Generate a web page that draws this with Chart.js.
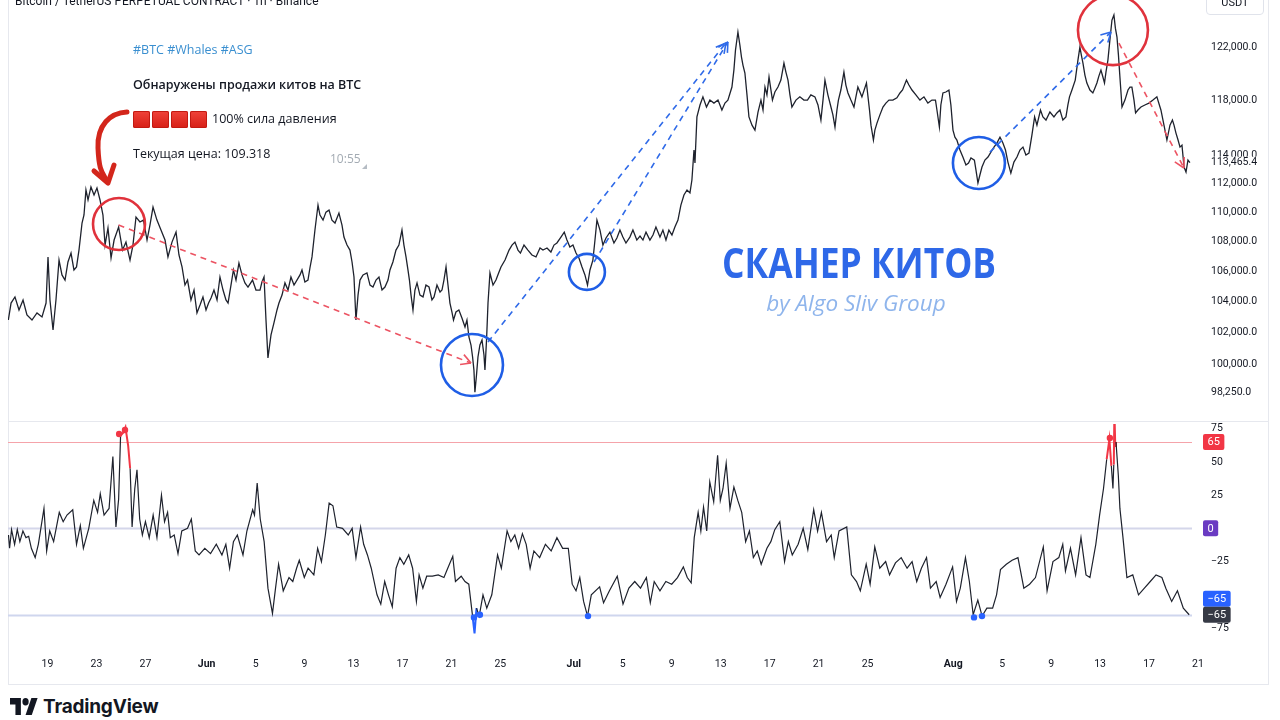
<!DOCTYPE html>
<html>
<head>
<meta charset="utf-8">
<script src="https://cdn.jsdelivr.net/npm/chart.js@4.4.1/dist/chart.umd.min.js"></script>
<style>
  html, body { margin: 0; padding: 0; background: #fff; }
  body { width: 1280px; height: 720px; position: relative; overflow: hidden; font-family: "Open Sans", sans-serif; color: #131722; }
  canvas { position: absolute; left: 0; }
  #priceCanvas { top: 0; }
  #oscCanvas { top: 420px; }
  #frame { position: absolute; left: 8px; top: -1px; width: 1261px; height: 686px; border: 1px solid #e6e8ee; box-sizing: border-box; }
  #paneLine { position: absolute; left: 8px; top: 421px; width: 1261px; height: 1px; background: #e6e8ee; }
  #title { position: absolute; left: 15px; top: -5px; font: 12px Roboto, sans-serif; line-height: 12px; white-space: nowrap; }
  #usdt { position: absolute; left: 1206px; top: -6px; width: 58px; height: 21px; border: 1px solid #e0e3eb; border-radius: 4px; box-sizing: border-box; font: 11px Roboto, sans-serif; text-align: center; line-height: 16px; }
  .msg { position: absolute; left: 133px; font-size: 12.5px; line-height: 18px; white-space: nowrap; }
  #tags { top: 41px; color: #3a8fd0; }
  #headline { top: 76px; font-weight: 600; }
  #pressure { top: 110px; display: flex; align-items: center; }
  #pressure i { display: inline-block; width: 17px; height: 17px; margin-right: 2px; border-radius: 2px; background: linear-gradient(#f0433a, #d61f16); box-shadow: inset 0 0 0 1px #c21a12; }
  #pressure span { margin-left: 3px; }
  #price { top: 145px; }
  #time { position: absolute; left: 330px; top: 150px; font-size: 12px; color: #a3abb3; }
  #corner { position: absolute; left: 362px; top: 164px; width: 0; height: 0; border-left: 5px solid transparent; border-bottom: 5px solid #b5bcc4; }
  #brand { position: absolute; left: 10px; top: 695px; display: flex; align-items: center; }
  #brand span { font: 700 19px Inter, sans-serif; margin-left: 5px; letter-spacing: -0.2px; }
  #overlay { position: absolute; left: 0; top: 0; pointer-events: none; }
</style>
</head>
<body>
<div id="frame"></div>
<canvas id="priceCanvas" width="1270" height="420"></canvas>
<canvas id="oscCanvas" width="1270" height="264"></canvas>
<div id="paneLine"></div>
<div id="title">Bitcoin / TetherUS PERPETUAL CONTRACT · 1h · Binance</div>
<div id="usdt">USDT</div>
<div class="msg" id="tags">#BTC #Whales #ASG</div>
<div class="msg" id="headline">Обнаружены продажи китов на BTC</div>
<div class="msg" id="pressure"><i></i><i></i><i></i><i></i><span>100% сила давления</span></div>
<div class="msg" id="price">Текущая цена: 109.318</div>
<div id="time">10:55</div>
<div id="corner"></div>
<div id="brand">
  <svg width="28" height="17" viewBox="0 4 36 18" preserveAspectRatio="none"><path fill="#131722" d="M14 22H7V11H0V4h14v18z"/><circle fill="#131722" cx="20" cy="8" r="4"/><path fill="#131722" d="M28 22h-8l7.5-18h8z"/></svg>
  <span>TradingView</span>
</div>
<svg id="overlay" width="1280" height="720">
  <path d="M127 112 C110 113 97 125 98 148 S102 172 107 181" fill="none" stroke="#d3261b" stroke-width="5" stroke-linecap="round"/>
  <path d="M94 171 L108 183 L114 165" fill="none" stroke="#d3261b" stroke-width="5" stroke-linecap="round" stroke-linejoin="round"/>
</svg>
<script>
// time axis: days counted from 16 May 00:00, 1h BTCUSDT perpetual
const dateTickDays   = [3, 7, 11, 16, 20, 24, 28, 32, 36, 40, 46, 50, 54, 58, 62, 66, 70, 77, 81, 85, 89, 93, 97];
const dateTickLabels = ['19', '23', '27', 'Jun', '5', '9', '13', '17', '21', '25', 'Jul', '5', '9', '13', '17', '21', '25', 'Aug', '5', '9', '13', '17', '21'];
const monthLabels = ['Jun', 'Jul', 'Aug'];

const priceTicks = [98250, 100000, 102000, 104000, 106000, 108000, 110000, 112000, 114000, 118000, 122000];
const oscTicks = [75, 50, 25, 0, -25, -75];
const oscLevels = [65, 0, -65];
const lastPrice = 113465.4;
const lastOsc = -65;

// [day, price]
const pricePath = [
  [-0.20,102800],[0.02,103900],[0.34,104300],[0.67,103450],[1.00,104100],[1.32,103130],[1.73,102800],[2.14,103260],[2.55,103000],[2.88,103900],
  [3.04,106950],[3.20,104100],[3.45,102160],[3.69,104100],[3.94,106740],[4.18,105750],[4.43,105410],[4.67,106610],[4.92,107210],[5.16,106080],
  [5.37,106280],[5.57,107410],[5.82,109250],[5.98,109800],[6.14,111540],[6.31,110840],[6.55,111750],[6.80,111190],[7.04,111680],[7.29,110840],
  [7.53,109800],[7.70,107750],[7.94,108910],[8.19,106880],[8.44,108090],[8.81,108970],[9.13,107410],[9.41,107950],[9.74,106740],[9.98,107750],
  [10.23,109660],[10.55,109320],[10.84,109450],[11.13,108090],[11.37,109110],[11.62,110350],[11.94,109450],[12.27,108770],[12.60,108090],[12.84,106950],
  [13.17,107950],[13.50,108630],[13.74,107080],[13.99,106280],[14.23,105080],[14.44,105410],[14.72,104100],[14.97,104750],[15.21,103260],[15.46,103770],
  [15.70,104300],[15.95,103450],[16.16,103900],[16.36,104230],[16.60,104750],[16.85,104100],[17.09,105610],[17.34,104750],[17.58,104100],[17.75,103900],
  [17.99,105080],[18.19,106080],[18.40,105410],[18.64,106540],[18.89,105750],[19.13,105220],[19.38,104950],[19.75,105410],[20.03,104750],[20.36,104750],
  [20.52,105280],[20.69,105610],[20.85,102800],[21.01,100380],[21.26,101840],[21.50,102610],[21.75,103450],[21.91,103900],[22.16,104420],[22.40,105220],
  [22.65,104750],[22.89,105610],[23.14,105080],[23.38,105410],[23.63,105750],[23.79,106080],[24.03,105280],[24.28,105410],[24.44,106210],[24.61,106950],
  [24.85,108770],[25.10,110490],[25.26,109800],[25.51,109450],[25.75,110000],[26.00,110140],[26.24,109450],[26.49,109250],[26.81,109930],[27.06,109110],
  [27.22,108290],[27.47,107750],[27.71,107410],[27.88,106610],[28.04,105610],[28.20,102800],[28.37,104420],[28.53,105410],[28.78,105750],[29.10,105880],
  [29.35,105080],[29.59,104950],[29.84,105410],[30.08,105610],[30.33,104750],[30.57,104950],[30.82,105410],[30.98,106080],[31.22,106610],[31.47,107410],
  [31.71,107750],[31.96,108770],[32.12,107750],[32.29,106950],[32.45,106080],[32.57,105410],[32.70,104420],[32.86,103450],[33.02,104750],[33.19,105220],
  [33.43,104420],[33.68,104300],[33.92,105080],[34.17,104950],[34.41,104100],[34.58,104300],[34.82,105080],[35.07,104620],[35.23,104750],[35.39,105410],
  [35.56,106280],[35.72,105080],[35.88,103900],[36.04,103320],[36.17,102800],[36.37,103320],[36.61,103450],[36.86,102930],[37.11,102350],[37.27,102800],
  [37.43,101710],[37.60,101200],[37.73,100440],[37.84,99620],[37.92,98250],[38.05,99310],[38.17,100440],[38.33,101200],[38.50,101520],[38.66,100570],
  [38.74,99620],[38.87,101520],[38.99,103900],[39.15,105880],[39.40,105080],[39.64,105410],[39.89,105950],[40.05,106280],[40.38,106740],[40.71,107410],
  [40.95,107750],[41.19,107950],[41.44,107410],[41.64,107210],[41.93,107750],[42.25,107410],[42.58,107080],[42.91,106950],[43.24,107550],[43.48,107410],
  [43.81,107550],[44.13,107280],[44.38,107750],[44.62,107890],[44.95,108290],[45.22,108630],[45.44,108090],[45.68,107620],[45.93,107750],[46.18,107210],
  [46.42,106880],[46.67,106280],[46.91,105750],[47.12,105080],[47.32,106080],[47.56,106740],[47.73,108090],[47.89,109450],[48.14,108770],[48.38,107750],
  [48.63,108230],[48.95,108630],[49.28,107890],[49.52,108230],[49.77,108770],[50.01,108290],[50.26,107890],[50.58,108290],[50.83,108770],[51.15,108090],
  [51.41,108360],[51.65,108090],[51.90,108630],[52.22,108090],[52.47,108430],[52.71,108970],[53.04,108290],[53.28,108770],[53.53,108090],[53.77,108770],
  [54.02,108430],[54.26,108970],[54.51,109450],[54.75,110490],[55.00,111190],[55.25,111540],[55.49,111330],[55.65,112240],[55.82,114370],[55.90,113440],
  [56.06,116770],[56.31,117650],[56.55,118250],[56.84,117500],[57.12,118010],[57.45,117790],[57.78,118010],[58.10,117280],[58.35,117790],[58.59,118010],
  [58.92,118980],[59.08,120250],[59.21,121770],[59.41,123160],[59.57,122150],[59.70,121240],[59.82,120630],[59.98,120030],[60.15,118400],[60.31,116770],
  [60.56,116170],[60.80,115810],[61.05,117130],[61.29,118010],[61.46,117280],[61.62,118980],[61.78,118400],[61.95,119730],[62.23,118010],[62.43,118610],
  [62.68,118980],[62.92,119500],[63.17,120780],[63.33,120100],[63.50,119500],[63.66,118400],[63.82,117500],[64.15,118010],[64.47,118250],[64.80,118010],
  [65.09,118010],[65.37,118400],[65.70,118250],[65.95,117650],[66.19,116540],[66.36,118010],[66.52,119500],[66.76,118400],[67.01,117500],[67.17,116920],
  [67.34,116030],[67.50,117280],[67.62,118010],[67.82,118760],[68.07,120100],[68.23,119130],[68.40,118540],[68.64,118010],[68.89,117500],[69.05,118250],
  [69.21,118980],[69.54,118250],[69.91,119280],[70.16,117280],[70.28,116170],[70.48,115090],[70.60,115810],[70.77,116320],[71.01,116920],[71.26,117500],
  [71.50,117790],[71.75,118010],[72.07,118010],[72.40,118180],[72.65,118540],[72.86,118760],[73.18,119500],[73.38,119130],[73.63,118760],[73.95,118400],
  [74.28,118010],[74.61,118250],[74.93,117790],[75.26,118010],[75.55,118010],[75.67,117280],[75.87,116030],[75.99,117650],[76.16,118540],[76.40,118610],
  [76.65,118760],[76.81,117650],[76.98,115810],[77.14,115300],[77.30,115090],[77.55,114370],[77.79,113870],[78.04,113300],[78.25,113440],[78.45,113800],
  [78.73,113650],[78.86,112940],[79.02,112030],[79.18,112590],[79.35,113160],[79.59,113650],[79.84,113870],[80.08,114220],[80.33,114580],[80.57,114870],
  [80.82,115300],[81.06,114870],[81.27,114370],[81.47,113510],[81.71,112730],[81.96,113510],[82.21,113870],[82.45,114370],[82.70,114580],[82.94,114010],
  [83.19,114150],[83.43,115450],[83.65,116770],[83.84,116170],[84.13,117280],[84.33,116770],[84.58,116540],[84.90,117130],[85.23,116770],[85.47,117060],
  [85.72,117280],[85.96,116540],[86.21,116770],[86.37,117650],[86.50,118250],[86.70,118760],[86.97,119500],[87.19,121010],[87.35,122000],[87.47,121390],
  [87.60,120780],[87.76,119880],[87.92,119280],[88.17,118760],[88.41,118540],[88.58,118910],[88.74,119280],[88.90,119800],[89.07,120250],[89.23,119730],
  [89.36,119280],[89.48,120100],[89.64,121010],[89.80,122540],[89.97,124090],[90.13,124480],[90.25,123460],[90.38,122770],[90.50,121390],[90.62,119730],
  [90.79,117500],[91.03,118010],[91.28,118760],[91.44,118980],[91.60,118980],[91.77,118010],[91.90,117060],[92.09,117280],[92.34,117500],[92.66,117650],
  [92.99,117790],[93.32,118010],[93.64,118250],[93.97,117280],[94.22,116170],[94.46,115090],[94.71,116170],[94.91,116540],[95.04,116170],[95.20,115590],
  [95.37,115090],[95.53,114580],[95.69,114720],[95.86,113160],[96.02,112800],[96.18,113650],[96.34,113465.4]
];

// [day, oscillator value]
const oscPath = [
  [-0.19,-5],[-0.10,-15],[0.06,-1],[0.31,-12],[0.53,-1],[0.74,-10],[0.99,-2],[1.24,-7],[1.46,-6],[1.68,-15],
  [1.99,-22],[2.25,-12],[2.71,15],[2.93,-17],[3.18,-2],[3.50,-10],[3.96,12],[4.28,5],[4.59,10],[5.06,14],
  [5.37,-12],[5.68,2],[5.93,-15],[6.37,0],[6.78,21],[7.09,12],[7.31,26],[7.62,10],[8.03,15],[8.34,54],
  [8.59,1],[8.81,22],[8.97,70],[9.19,72],[9.37,76],[9.59,62],[9.75,45],[9.91,1],[10.13,30],[10.31,44],
  [10.53,7],[10.75,-5],[11.00,5],[11.31,-7],[11.63,10],[11.94,-7],[12.31,25],[12.56,5],[12.81,12],[13.03,-7],
  [13.35,-5],[13.66,-19],[13.97,-2],[14.44,0],[14.75,7],[15.07,-17],[15.38,-20],[15.85,-15],[16.32,-19],[16.79,-12],
  [17.25,-20],[17.57,-12],[17.88,-30],[18.19,-10],[18.51,-5],[18.97,-20],[19.29,-2],[19.76,14],[19.91,10],[20.13,34],
  [20.38,7],[20.70,-10],[21.01,-45],[21.38,-64],[21.63,-45],[21.88,-27],[22.26,-47],[22.73,-37],[23.04,-40],[23.35,-30],
  [23.57,-24],[23.98,-37],[24.29,-30],[24.76,-35],[25.07,-15],[25.38,-25],[25.70,-5],[26.01,19],[26.32,17],[26.63,1],
  [27.10,0],[27.57,-5],[27.89,0],[28.20,-22],[28.58,1],[28.83,-12],[29.14,-20],[29.45,-30],[29.92,-50],[30.23,-57],
  [30.55,-40],[30.86,-50],[31.17,-59],[31.48,-30],[31.79,-22],[32.11,-27],[32.51,-20],[32.83,-30],[33.14,-55],[33.36,-35],
  [33.67,-45],[33.98,-36],[34.45,-36],[34.92,-35],[35.39,-37],[35.70,-30],[36.11,-21],[36.33,-40],[36.80,-36],[37.11,-40],
  [37.42,-42],[37.74,-67],[37.89,-79],[38.05,-60],[38.27,-66],[38.58,-50],[38.89,-60],[39.30,-50],[39.77,-20],[40.08,-30],
  [40.55,-2],[40.86,-10],[41.18,-5],[41.49,-15],[41.80,-4],[42.11,-12],[42.43,-30],[42.74,-17],[43.21,-22],[43.68,-12],
  [44.15,-17],[44.62,-7],[45.09,-15],[45.55,-15],[45.87,-42],[46.18,-47],[46.49,-37],[46.80,-55],[47.12,-66],[47.43,-50],
  [48.11,-44],[48.43,-56],[48.91,-47],[49.55,-36],[50.02,-57],[50.50,-45],[50.98,-40],[51.45,-45],[51.93,-37],[52.25,-56],
  [52.57,-40],[53.04,-47],[53.52,-40],[54.00,-42],[54.47,-37],[54.95,-29],[55.27,-37],[55.59,-41],[55.84,-7],[56.16,12],
  [56.38,-2],[56.60,16],[56.86,-2],[57.11,35],[57.43,20],[57.75,55],[57.97,21],[58.19,30],[58.45,49],[58.76,15],
  [59.08,31],[59.40,21],[59.72,12],[60.04,-10],[60.35,-2],[60.67,-22],[60.99,-17],[61.31,-27],[61.78,-15],[62.10,-10],
  [62.42,-1],[62.83,5],[63.22,-25],[63.53,-10],[63.85,-20],[64.33,-12],[64.74,0],[65.12,-16],[65.60,14],[65.92,-2],
  [66.23,12],[66.65,-10],[67.03,-5],[67.28,-22],[67.67,-2],[68.30,1],[68.68,-35],[69.10,-40],[69.41,-47],[69.89,-27],
  [70.21,-42],[70.59,-14],[71.00,-30],[71.48,-25],[71.80,-35],[72.28,-26],[72.75,-22],[73.23,-30],[73.64,-25],[74.02,-40],
  [74.40,-30],[74.82,-22],[75.14,-45],[75.61,-40],[75.93,-52],[76.41,-42],[76.95,-29],[77.27,-55],[77.58,-45],[78.00,-22],
  [78.32,-40],[78.63,-65],[79.01,-54],[79.36,-66],[79.75,-60],[80.22,-60],[80.54,-50],[80.86,-31],[81.34,-27],[81.81,-24],
  [82.29,-22],[82.77,-45],[83.24,-42],[83.72,-37],[84.36,-14],[84.67,-47],[85.15,-25],[85.63,-22],[85.95,-12],[86.17,-32],
  [86.58,-15],[87.00,-35],[87.44,-7],[87.85,-35],[88.17,-37],[88.65,-12],[88.96,10],[89.28,30],[89.54,52],[89.76,67],
  [89.92,47],[90.05,30],[90.12,48],[90.17,88],[90.24,62],[90.30,65],[90.49,40],[90.62,15],[90.87,-7],[91.19,-37],
  [91.67,-35],[92.14,-50],[92.62,-45],[93.10,-40],[93.57,-35],[94.05,-37],[94.37,-45],[94.85,-55],[95.32,-47],[95.80,-60],[96.28,-65]
];

// whale signal dots on the oscillator
const sellSignals = [[8.85, 71], [9.33, 74], [89.80, 68]];
const buySignals = [[37.84, -67], [38.33, -65], [47.16, -66], [78.70, -67], [79.35, -66]];

const LINE = '#1e222d';
const TEXT = '#131722';
const RED = '#f23645';
const BLUE = '#2962ff';
const X_MIN = -0.229;
const X_MAX = 97;

// drawn annotations, anchored in [day, price]
const markCircles = [
  { at: [8.84, 109180], r: 26, color: '#e0323c' },
  { at: [37.68, 99940], r: 31, color: '#1f5ee6' },
  { at: [47.07, 105950], r: 18, color: '#1f5ee6' },
  { at: [79.10, 113440], r: 26, color: '#1f5ee6' },
  { at: [90.05, 123310], r: 35, color: '#e0323c' }
];
const markArrows = [
  { from: [8.81, 109110], to: [37.60, 100060], color: '#ec5463' },
  { from: [38.99, 101390], to: [58.43, 122320], color: '#2f6ae8' },
  { from: [47.65, 106610], to: [58.59, 122400], color: '#2f6ae8' },
  { from: [80.00, 114220], to: [89.89, 123160], color: '#2f6ae8' },
  { from: [90.54, 122310], to: [95.85, 113090], color: '#ec5463' }
];

const fmtPrice = v => Number(v).toLocaleString('en-US', { minimumFractionDigits: 1, maximumFractionDigits: 1 });
const toXY = arr => arr.map(([d, v]) => ({ x: d, y: v }));

// keep the plot area flush with the pane edges (Chart.js pads for edge labels)
const noEdgePadding = s => { s.paddingTop = 0; s.paddingBottom = 0; s.paddingLeft = 0; s.paddingRight = 0; };

function roundRect(ctx, x, y, w, h, r) {
  ctx.beginPath();
  ctx.moveTo(x + r, y);
  ctx.arcTo(x + w, y, x + w, y + h, r);
  ctx.arcTo(x + w, y + h, x, y + h, r);
  ctx.arcTo(x, y + h, x, y, r);
  ctx.arcTo(x, y, x + w, y, r);
  ctx.closePath();
}

const priceMarks = {
  id: 'priceMarks',
  beforeDatasetsDraw(chart) {
    const { ctx } = chart;
    ctx.save();
    ctx.textAlign = 'center';
    ctx.textBaseline = 'middle';
    ctx.fillStyle = '#2e68e8';
    ctx.font = '700 42px "Open Sans"';
    ctx.fillText('СКАНЕР КИТОВ', 859, 266, 274);
    ctx.fillStyle = '#8fb5ec';
    ctx.font = 'italic 400 22.5px "Open Sans"';
    ctx.fillText('by Algo Sliv Group', 856, 305, 184);
    ctx.restore();
  },
  afterDatasetsDraw(chart) {
    const { ctx } = chart;
    const xs = chart.scales.x, ys = chart.scales.y;
    const P = ([d, v]) => ({ x: xs.getPixelForValue(d), y: ys.getPixelForValue(v) });
    ctx.save();
    markArrows.forEach(m => {
      const a = P(m.from), b = P(m.to);
      ctx.strokeStyle = m.color;
      ctx.lineWidth = 1.6;
      ctx.setLineDash([6, 5]);
      ctx.beginPath();
      ctx.moveTo(a.x, a.y);
      ctx.lineTo(b.x, b.y);
      ctx.stroke();
      ctx.setLineDash([]);
      const ang = Math.atan2(b.y - a.y, b.x - a.x);
      [0.5, -0.5].forEach(s => {
        ctx.beginPath();
        ctx.moveTo(b.x, b.y);
        ctx.lineTo(b.x - 11 * Math.cos(ang + s), b.y - 11 * Math.sin(ang + s));
        ctx.stroke();
      });
    });
    markCircles.forEach(c => {
      const p = P(c.at);
      ctx.strokeStyle = c.color;
      ctx.lineWidth = 2.6;
      ctx.beginPath();
      ctx.arc(p.x, p.y, c.r, 0, Math.PI * 2);
      ctx.stroke();
    });
    ctx.restore();
  },
  afterDraw(chart) {
    const { ctx, chartArea } = chart;
    const y = chart.scales.y.getPixelForValue(lastPrice);
    ctx.save();
    ctx.fillStyle = '#fff';
    ctx.fillRect(chartArea.right + 2, y - 6, 66, 13);
    ctx.fillStyle = TEXT;
    ctx.font = '10.5px Roboto';
    ctx.textBaseline = 'middle';
    ctx.fillText(fmtPrice(lastPrice), chartArea.right + 13, y);
    ctx.restore();
  }
};

const oscMarks = {
  id: 'oscMarks',
  beforeDatasetsDraw(chart) {
    const { ctx, chartArea } = chart;
    const ys = chart.scales.y;
    const styles = { '65': ['#f5a3aa', 1], '0': ['#d4d6ea', 2], '-65': ['#cfd6ee', 2] };
    ctx.save();
    oscLevels.forEach(lv => {
      const [col, w] = styles[String(lv)];
      const y = Math.round(ys.getPixelForValue(lv)) + 0.5;
      ctx.strokeStyle = col;
      ctx.lineWidth = w;
      ctx.beginPath();
      ctx.moveTo(chartArea.left, y);
      ctx.lineTo(chartArea.right - 6, y);
      ctx.stroke();
    });
    ctx.restore();
  },
  afterDraw(chart) {
    const { ctx, chartArea } = chart;
    const ys = chart.scales.y;
    const tag = (text, y, bg) => {
      ctx.font = '11px Roboto';
      const w = ctx.measureText(text).width + 9;
      ctx.fillStyle = bg;
      roundRect(ctx, chartArea.right + 5, y - 8, w, 16, 2);
      ctx.fill();
      ctx.fillStyle = '#fff';
      ctx.textAlign = 'left';
      ctx.textBaseline = 'middle';
      ctx.fillText(text, chartArea.right + 9.5, y + 0.5);
    };
    ctx.save();
    tag('65', ys.getPixelForValue(65), RED);
    tag('0', ys.getPixelForValue(0), '#6a3bc2');
    tag('−65', ys.getPixelForValue(-65) - 16, BLUE);
    tag('−65', ys.getPixelForValue(lastOsc), '#363a45');
    ctx.restore();
  }
};

const baseOpts = {
  responsive: false,
  animation: false,
  events: [],
  layout: { padding: { left: 8, top: 0, right: 0, bottom: 0 } },
  plugins: { legend: { display: false }, tooltip: { enabled: false } }
};

new Chart(document.getElementById('priceCanvas'), {
  type: 'line',
  data: {
    datasets: [{
      data: toXY(pricePath),
      borderColor: LINE,
      borderWidth: 1.3,
      pointRadius: 0,
      tension: 0
    }]
  },
  options: {
    ...baseOpts,
    scales: {
      x: { type: 'linear', min: X_MIN, max: X_MAX, display: false },
      y: {
        type: 'logarithmic',
        position: 'right',
        min: 96548,
        max: 125660,
        afterBuildTicks: s => { s.ticks = priceTicks.map(v => ({ value: v })); },
        afterFit: s => { s.width = 72; noEdgePadding(s); },
        grid: { display: false, drawTicks: false },
        border: { display: false },
        ticks: {
          autoSkip: false,
          padding: 13,
          color: TEXT,
          font: { family: 'Roboto', size: 10.5 },
          callback: v => fmtPrice(v)
        }
      }
    }
  },
  plugins: [priceMarks]
});

new Chart(document.getElementById('oscCanvas'), {
  type: 'line',
  data: {
    datasets: [
      {
        type: 'scatter',
        data: toXY(sellSignals),
        backgroundColor: RED,
        borderWidth: 0,
        pointRadius: 3.2,
        order: 0
      },
      {
        type: 'scatter',
        data: toXY(buySignals),
        backgroundColor: BLUE,
        borderWidth: 0,
        pointRadius: 3.2,
        order: 0
      },
      {
        data: toXY(oscPath),
        borderColor: LINE,
        borderWidth: 1.2,
        pointRadius: 0,
        tension: 0,
        order: 1,
        segment: {
          borderColor: c => {
            const a = c.p0.parsed.y, b = c.p1.parsed.y;
            if (a >= 45 && b >= 45) return RED;
            if (Math.min(a, b) < -70) return BLUE;
            return LINE;
          },
          borderWidth: c => (Math.min(c.p0.parsed.y, c.p1.parsed.y) >= 45 || Math.min(c.p0.parsed.y, c.p1.parsed.y) < -70) ? 2 : 1.2
        }
      }
    ]
  },
  options: {
    ...baseOpts,
    layout: { padding: { left: 8, top: 2, right: 0, bottom: 0 } },
    scales: {
      x: {
        type: 'linear',
        min: X_MIN,
        max: X_MAX,
        afterBuildTicks: s => { s.ticks = dateTickDays.map(v => ({ value: v })); },
        afterFit: s => { s.height = 42; noEdgePadding(s); },
        grid: { display: false, drawTicks: false },
        border: { display: false },
        ticks: {
          autoSkip: false,
          maxRotation: 0,
          padding: 16,
          color: TEXT,
          font: c => ({ family: 'Roboto', size: 10.5, weight: monthLabels.includes(dateTickLabels[c.index]) ? 'bold' : 'normal' }),
          callback: (v, i) => dateTickLabels[i]
        }
      },
      y: {
        position: 'right',
        min: -85.5,
        max: 78.5,
        afterBuildTicks: s => { s.ticks = oscTicks.map(v => ({ value: v })); },
        afterFit: s => { s.width = 72; noEdgePadding(s); },
        grid: { display: false, drawTicks: false },
        border: { display: false },
        ticks: {
          autoSkip: false,
          padding: 13,
          color: TEXT,
          font: { family: 'Roboto', size: 10.5 },
          callback: v => String(v).replace('-', '−')
        }
      }
    }
  },
  plugins: [oscMarks]
});
</script>
</body>
</html>
